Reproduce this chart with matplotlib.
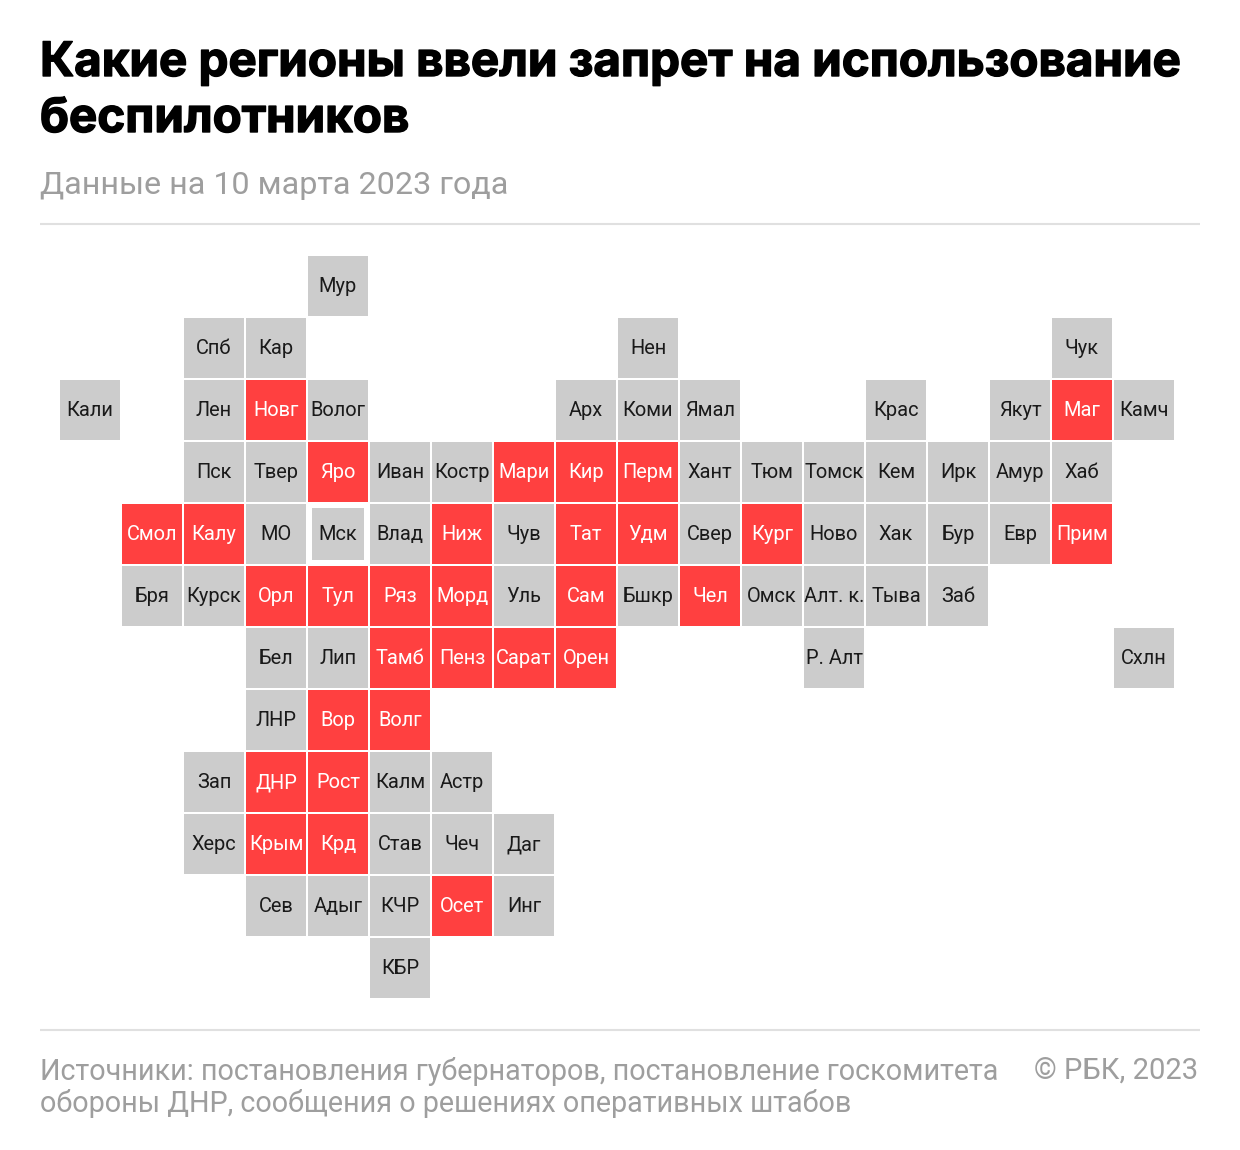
import matplotlib
matplotlib.use('Agg')
import matplotlib.pyplot as plt
import matplotlib.patheffects as pe
from matplotlib.patches import Rectangle

W, H = 1240, 1150

# (col, label, banned) per row of the tile grid
row_0 = [(4, 'Мур', 0)]
row_1 = [(2, 'Спб', 0), (3, 'Кар', 0), (9, 'Нен', 0), (16, 'Чук', 0)]
row_2 = [(0, 'Кали', 0), (2, 'Лен', 0), (3, 'Новг', 1), (4, 'Волог', 0), (8, 'Арх', 0), (9, 'Коми', 0),
         (10, 'Ямал', 0), (13, 'Крас', 0), (15, 'Якут', 0), (16, 'Маг', 1), (17, 'Камч', 0)]
row_3 = [(2, 'Пск', 0), (3, 'Твер', 0), (4, 'Яро', 1), (5, 'Иван', 0), (6, 'Костр', 0), (7, 'Мари', 1),
         (8, 'Кир', 1), (9, 'Перм', 1), (10, 'Хант', 0), (11, 'Тюм', 0), (12, 'Томск', 0), (13, 'Кем', 0),
         (14, 'Ирк', 0), (15, 'Амур', 0), (16, 'Хаб', 0)]
row_4 = [(1, 'Смол', 1), (2, 'Калу', 1), (3, 'МО', 0), (4, 'Мск', 0), (5, 'Влад', 0), (6, 'Ниж', 1),
         (7, 'Чув', 0), (8, 'Тат', 1), (9, 'Удм', 1), (10, 'Свер', 0), (11, 'Кург', 1), (12, 'Ново', 0),
         (13, 'Хак', 0), (14, 'Бур', 0), (15, 'Евр', 0), (16, 'Прим', 1)]
row_5 = [(1, 'Бря', 0), (2, 'Курск', 0), (3, 'Орл', 1), (4, 'Тул', 1), (5, 'Ряз', 1), (6, 'Морд', 1),
         (7, 'Уль', 0), (8, 'Сам', 1), (9, 'Бшкр', 0), (10, 'Чел', 1), (11, 'Омск', 0), (12, 'Алт. к.', 0),
         (13, 'Тыва', 0), (14, 'Заб', 0)]
row_6 = [(3, 'Бел', 0), (4, 'Лип', 0), (5, 'Тамб', 1), (6, 'Пенз', 1), (7, 'Сарат', 1), (8, 'Орен', 1),
         (12, 'Р. Алт', 0), (17, 'Схлн', 0)]
row_7 = [(3, 'ЛНР', 0), (4, 'Вор', 1), (5, 'Волг', 1)]
row_8 = [(2, 'Зап', 0), (3, 'ДНР', 1), (4, 'Рост', 1), (5, 'Калм', 0), (6, 'Астр', 0)]
row_9 = [(2, 'Херс', 0), (3, 'Крым', 1), (4, 'Крд', 1), (5, 'Став', 0), (6, 'Чеч', 0), (7, 'Даг', 0)]
row_10 = [(3, 'Сев', 0), (4, 'Адыг', 0), (5, 'КЧР', 0), (6, 'Осет', 1), (7, 'Инг', 0)]
row_11 = [(5, 'КБР', 0)]
rows = [row_0, row_1, row_2, row_3, row_4, row_5, row_6, row_7, row_8, row_9, row_10, row_11]

RED = '#ff4040'
GREY = '#cccccc'
MUTED = '#9e9e9e'
plt.rcParams['font.family'] = ['Roboto', 'DejaVu Sans']

fig = plt.figure(figsize=(W / 100, H / 100), dpi=100)
ax = fig.add_axes([0, 0, 1, 1])
ax.set_xlim(0, W)
ax.set_ylim(H, 0)
ax.axis('off')

for r, row in enumerate(rows):
    for c, label, banned in row:
        x = 60 + c * 62
        y = 256 + r * 62
        if label == 'Мск':
            # Moscow cell is inset inside a white frame
            ax.add_patch(Rectangle((x + 4, y + 4), 52, 52, facecolor=GREY, edgecolor='none'))
        else:
            ax.add_patch(Rectangle((x, y), 60, 60, facecolor=RED if banned else GREY, edgecolor='none'))
        ax.text(x + 30, y + 30.5, label, ha='center', va='center', fontsize=14.4,
                color='white' if banned else '#1a1a1a')

# no heavier Inter here, so thicken the bold with a thin stroke
title_font = ['Inter', 'DejaVu Sans']
heavy = [pe.withStroke(linewidth=1.0, foreground='black')]
ax.text(40, 64, 'Какие регионы ввели запрет на использование', fontsize=34.2, fontweight='bold',
        color='black', va='center', family=title_font, path_effects=heavy)
ax.text(40, 120, 'беспилотников', fontsize=34.2, fontweight='bold', color='black', va='center',
        family=title_font, path_effects=heavy)
ax.text(40, 185, 'Данные на 10 марта 2023 года', fontsize=23.2, color=MUTED, va='center')

ax.plot([40, 1200], [224, 224], color='#e0e0e0', lw=1.5, solid_capstyle='butt')
ax.plot([40, 1200], [1030, 1030], color='#e0e0e0', lw=1.5, solid_capstyle='butt')

ax.text(40, 1071, 'Источники: постановления губернаторов, постановление госкомитета', fontsize=20.7,
        color=MUTED, va='center')
ax.text(40, 1103, 'обороны ДНР, сообщения о решениях оперативных штабов', fontsize=20.7, color=MUTED,
        va='center')
ax.text(1198, 1071, '© РБК, 2023', fontsize=21, color=MUTED, va='center', ha='right')

fig.savefig('out.png', dpi=100)
